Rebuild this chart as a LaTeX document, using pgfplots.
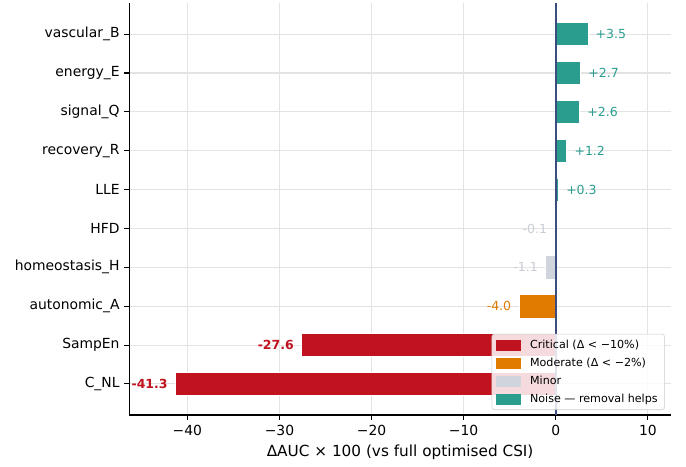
\documentclass[border=0pt]{standalone}
\usepackage{fontspec}
\setmainfont{DejaVu Sans}
\usepackage{pgfplots}
\pgfplotsset{compat=1.18}
\definecolor{crit}{HTML}{C0131F}
\definecolor{mod}{HTML}{E07B00}
\definecolor{minorc}{HTML}{D0D4DC}
\definecolor{noise}{HTML}{2A9D8F}
\definecolor{zeroline}{HTML}{3B4C7E}
\definecolor{gridc}{HTML}{E3E3E3}
\definecolor{minortext}{HTML}{C8CCD4}
\begin{document}
\begin{tikzpicture}
\useasboundingbox (-93.1pt,-36.7pt) rectangle (400.8pt,298.8pt);
\begin{axis}[
  at={(0pt,0pt)}, anchor=south west,
  scale only axis, width=389.9pt, height=296.6pt,
  xmin=-46.3, xmax=12.5, ymin=-0.8, ymax=9.8,
  axis x line*=bottom, axis y line*=left,
  axis line style={line width=0.8pt, black, -},
  xtick={-40,-30,-20,-10,0,10},
  xticklabels={−40,−30,−20,−10,0,10},
  ytick={0,...,9},
  yticklabels={C\_NL,SampEn,autonomic\_A,homeostasis\_H,HFD,LLE,recovery\_R,signal\_Q,energy\_E,vascular\_B},
  tick align=outside, major tick length=3.5pt,
  tick style={line width=0.8pt, black},
  grid=major, grid style={gridc, line width=0.8pt},
  ticklabel style={font=\fontsize{10}{12}\selectfont},
  xlabel={ΔAUC × 100 (vs full optimised CSI)},
  xlabel style={font=\fontsize{11}{13}\selectfont},
  xbar, bar width=0.6, bar shift=0pt,
  point meta=explicit symbolic,
  legend style={at={(1,0)}, anchor=south east, xshift=-4.3pt, yshift=3.6pt,
    font=\fontsize{8}{9.6}\selectfont, draw=black!20, fill=white, fill opacity=0.85,
    draw opacity=1, text opacity=1, rounded corners=2pt, row sep=1.4pt,
    /tikz/every odd column/.append style={column sep=4.5pt}},
  legend cell align=left,
]
\addplot[fill=crit, draw=white, line width=0.5pt,
  legend image code/.code={\fill[crit, fill opacity=1, sharp corners] (0pt,-3.6pt) rectangle (17.5pt,3.6pt);},
  nodes near coords,
  nodes near coords style={anchor=east, draw=none, fill=none, text=crit, xshift=-2pt,
    font=\bfseries\fontsize{9}{11}\selectfont}]
  coordinates {(-27.6,1)[-27.6] (-41.3,0)[-41.3]};
\addlegendentry{Critical (Δ < −10\%)}
\addplot[fill=mod, draw=white, line width=0.5pt,
  legend image code/.code={\fill[mod, fill opacity=1, sharp corners] (0pt,-3.6pt) rectangle (17.5pt,3.6pt);},
  nodes near coords,
  nodes near coords style={anchor=east, draw=none, fill=none, text=mod, xshift=-2pt,
    font=\fontsize{9}{11}\selectfont}]
  coordinates {(-4.0,2)[-4.0]};
\addlegendentry{Moderate (Δ < −2\%)}
\addplot[fill=minorc, draw=white, line width=0.5pt,
  legend image code/.code={\fill[minorc, fill opacity=1, sharp corners] (0pt,-3.6pt) rectangle (17.5pt,3.6pt);},
  nodes near coords,
  nodes near coords style={anchor=east, draw=none, fill=none, text=minortext, xshift=-2pt,
    font=\fontsize{9}{11}\selectfont}]
  coordinates {(-1.1,3)[-1.1] (-0.1,4)[-0.1]};
\addlegendentry{Minor}
\addplot[fill=noise, draw=white, line width=0.5pt,
  legend image code/.code={\fill[noise, fill opacity=1, sharp corners] (0pt,-3.6pt) rectangle (17.5pt,3.6pt);},
  nodes near coords,
  nodes near coords style={anchor=west, draw=none, fill=none, text=noise, xshift=2pt,
    font=\fontsize{9}{11}\selectfont}]
  coordinates {(0.3,5)[+0.3] (1.2,6)[+1.2] (2.6,7)[+2.6] (2.7,8)[+2.7] (3.5,9)[+3.5]};
\addlegendentry{Noise — removal helps}
\draw[zeroline, line width=1.2pt] (axis cs:0,-0.8) -- (axis cs:0,9.8);
\end{axis}
\end{tikzpicture}
\end{document}
